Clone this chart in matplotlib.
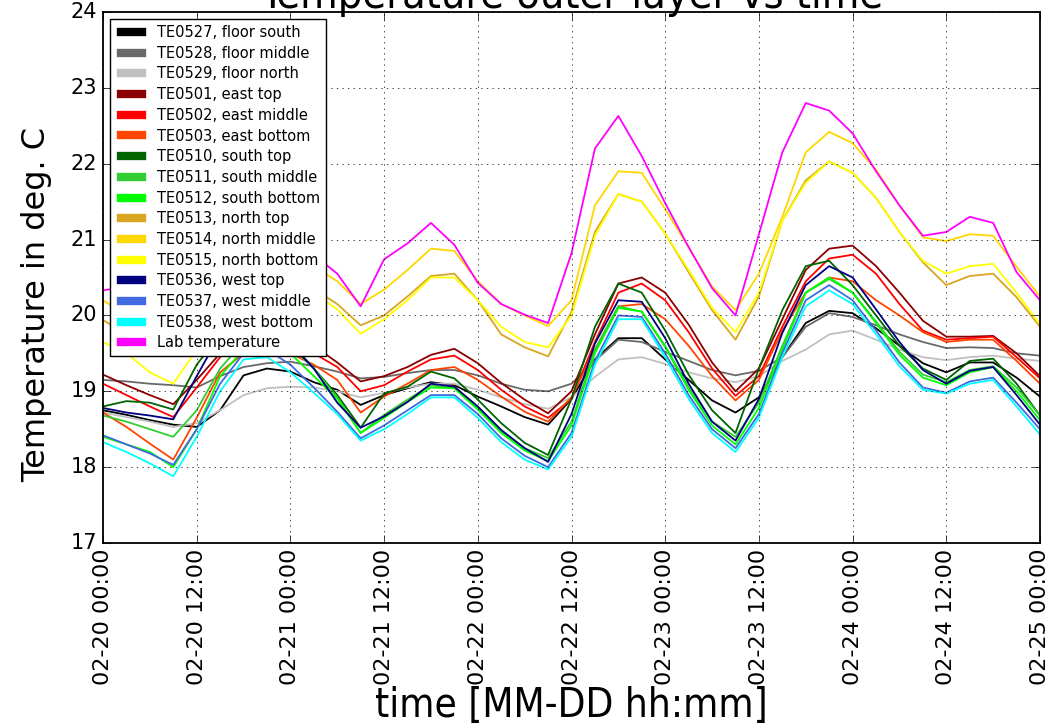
import numpy as np
import pandas as pd
import matplotlib
matplotlib.use('Agg')
import matplotlib.pyplot as plt
import matplotlib.dates as mdates
from matplotlib import font_manager

plt.style.use('classic')

# narrow face for the big labels, if one is installed
have = {(f.name, f.stretch) for f in font_manager.fontManager.ttflist}
if ('DejaVu Sans', 'condensed') in have:
    narrow = dict(family='DejaVu Sans', stretch='condensed')
elif any(n == 'Liberation Sans Narrow' for n, s in have):
    narrow = dict(family='Liberation Sans Narrow')
else:
    narrow = dict(family='DejaVu Sans')

# readings every 3 hours, starting 02-20 00:00
hours = np.arange(0, 121, 3)
time = pd.Timestamp('2017-02-20 00:00') + pd.to_timedelta(hours, unit='h')

te0527 = [18.75, 18.69, 18.62, 18.56, 18.53, 18.75, 19.21, 19.30, 19.26, 19.12,
          19.02, 18.82, 18.95, 19.04, 19.12, 19.08, 18.93, 18.80, 18.66, 18.56,
          18.90, 19.42, 19.70, 19.70, 19.42, 19.15, 18.88, 18.72, 18.92, 19.45,
          19.90, 20.06, 20.03, 19.83, 19.60, 19.37, 19.25, 19.38, 19.38, 19.18,
          18.93]
te0528 = [19.15, 19.13, 19.10, 19.08, 19.05, 19.20, 19.32, 19.37, 19.39, 19.33,
          19.26, 19.17, 19.19, 19.24, 19.28, 19.28, 19.21, 19.10, 19.02, 19.00,
          19.10, 19.40, 19.68, 19.65, 19.52, 19.40, 19.28, 19.21, 19.27, 19.45,
          19.85, 20.03, 19.98, 19.87, 19.75, 19.65, 19.57, 19.58, 19.57, 19.50,
          19.47]
te0529 = [18.72, 18.66, 18.60, 18.53, 18.58, 18.75, 18.95, 19.04, 19.06, 19.05,
          19.00, 18.92, 18.98, 19.05, 19.10, 19.10, 19.02, 18.92, 18.83, 18.77,
          18.92, 19.19, 19.42, 19.45, 19.36, 19.25, 19.17, 19.12, 19.20, 19.40,
          19.55, 19.75, 19.80, 19.68, 19.55, 19.45, 19.41, 19.45, 19.47, 19.43,
          19.40]
te0501 = [19.22, 19.08, 18.95, 18.83, 19.15, 19.50, 19.80, 19.85, 19.75, 19.60,
          19.38, 19.13, 19.20, 19.32, 19.48, 19.56, 19.37, 19.11, 18.89, 18.71,
          19.00, 19.75, 20.42, 20.50, 20.30, 19.88, 19.38, 19.00, 19.30, 19.95,
          20.60, 20.88, 20.92, 20.65, 20.30, 19.93, 19.72, 19.72, 19.73, 19.50,
          19.20]
te0502 = [19.10, 18.95, 18.80, 18.66, 19.05, 19.45, 19.68, 19.75, 19.68, 19.50,
          19.32, 19.00, 19.08, 19.26, 19.42, 19.47, 19.28, 19.02, 18.80, 18.65,
          18.90, 19.65, 20.30, 20.42, 20.20, 19.78, 19.30, 18.94, 19.20, 19.85,
          20.45, 20.75, 20.80, 20.55, 20.15, 19.80, 19.68, 19.70, 19.72, 19.45,
          19.17]
te0503 = [18.72, 18.53, 18.31, 18.10, 18.65, 19.25, 19.50, 19.60, 19.50, 19.35,
          19.15, 18.72, 18.93, 19.10, 19.28, 19.32, 19.15, 18.93, 18.73, 18.60,
          18.92, 19.55, 20.12, 20.15, 19.95, 19.60, 19.20, 18.88, 19.15, 19.80,
          20.30, 20.50, 20.45, 20.20, 20.00, 19.78, 19.65, 19.68, 19.68, 19.40,
          19.10]
te0510 = [18.80, 18.87, 18.85, 18.76, 19.35, 19.75, 19.95, 19.95, 19.65, 19.30,
          18.95, 18.52, 18.97, 19.06, 19.26, 19.17, 18.89, 18.58, 18.32, 18.16,
          18.90, 19.85, 20.42, 20.30, 19.80, 19.22, 18.75, 18.45, 19.30, 20.07,
          20.65, 20.72, 20.40, 20.00, 19.60, 19.30, 19.15, 19.40, 19.43, 19.10,
          18.68]
te0511 = [18.68, 18.60, 18.50, 18.40, 18.75, 19.30, 19.65, 19.80, 19.60, 19.30,
          18.92, 18.45, 18.69, 18.89, 19.08, 19.04, 18.78, 18.47, 18.25, 18.12,
          18.60, 19.55, 20.12, 20.05, 19.60, 19.05, 18.60, 18.40, 18.85, 19.60,
          20.30, 20.48, 20.30, 19.92, 19.52, 19.22, 19.12, 19.28, 19.33, 19.05,
          18.68]
te0512 = [18.40, 18.30, 18.20, 18.00, 18.50, 19.20, 19.55, 19.70, 19.50, 19.20,
          18.90, 18.45, 18.65, 18.86, 19.05, 19.04, 18.76, 18.45, 18.22, 18.08,
          18.55, 19.50, 20.10, 20.05, 19.58, 19.02, 18.55, 18.30, 18.78, 19.55,
          20.30, 20.50, 20.30, 19.90, 19.48, 19.18, 19.08, 19.25, 19.32, 19.00,
          18.62]
te0513 = [19.94, 19.75, 19.65, 19.58, 19.90, 20.20, 20.50, 20.60, 20.55, 20.35,
          20.15, 19.87, 20.00, 20.25, 20.52, 20.55, 20.20, 19.75, 19.58, 19.46,
          20.05, 21.10, 21.60, 21.50, 21.08, 20.57, 20.07, 19.68, 20.25, 21.25,
          21.78, 22.03, 21.88, 21.55, 21.10, 20.70, 20.40, 20.52, 20.55, 20.24,
          19.85]
te0514 = [20.20, 20.00, 19.80, 19.65, 20.00, 20.40, 20.70, 20.85, 20.80, 20.65,
          20.45, 20.15, 20.34, 20.60, 20.88, 20.85, 20.45, 20.15, 20.00, 19.86,
          20.20, 21.45, 21.90, 21.88, 21.40, 20.90, 20.38, 20.07, 20.55, 21.30,
          22.15, 22.42, 22.27, 21.92, 21.45, 21.03, 20.98, 21.07, 21.05, 20.64,
          20.25]
te0515 = [19.65, 19.50, 19.25, 19.10, 19.55, 20.10, 20.40, 20.55, 20.50, 20.30,
          20.08, 19.76, 19.95, 20.20, 20.50, 20.50, 20.20, 19.85, 19.65, 19.58,
          20.00, 21.05, 21.60, 21.50, 21.08, 20.60, 20.10, 19.78, 20.30, 21.25,
          21.75, 22.03, 21.88, 21.55, 21.10, 20.72, 20.55, 20.65, 20.68, 20.30,
          19.88]
te0536 = [18.78, 18.72, 18.68, 18.63, 19.20, 19.75, 20.00, 19.90, 19.62, 19.30,
          18.85, 18.52, 18.67, 18.86, 19.10, 19.06, 18.80, 18.49, 18.25, 18.07,
          18.70, 19.63, 20.20, 20.18, 19.70, 19.10, 18.60, 18.35, 18.90, 19.77,
          20.40, 20.65, 20.50, 20.08, 19.65, 19.28, 19.10, 19.27, 19.32, 18.95,
          18.56]
te0537 = [18.42, 18.30, 18.18, 18.03, 18.50, 19.10, 19.50, 19.55, 19.35, 19.05,
          18.73, 18.38, 18.55, 18.75, 18.95, 18.95, 18.70, 18.38, 18.15, 18.00,
          18.45, 19.40, 20.00, 19.98, 19.50, 18.95, 18.50, 18.25, 18.70, 19.50,
          20.20, 20.40, 20.20, 19.80, 19.38, 19.05, 18.98, 19.13, 19.18, 18.85,
          18.50]
te0538 = [18.33, 18.20, 18.05, 17.88, 18.40, 19.00, 19.42, 19.45, 19.25, 18.98,
          18.70, 18.35, 18.50, 18.70, 18.92, 18.92, 18.65, 18.33, 18.10, 17.97,
          18.40, 19.35, 19.95, 19.95, 19.45, 18.90, 18.45, 18.20, 18.65, 19.45,
          20.12, 20.33, 20.15, 19.75, 19.33, 19.02, 18.97, 19.10, 19.15, 18.80,
          18.43]
lab = [20.33, 20.38, 20.30, 20.10, 20.50, 20.85, 21.00, 21.05, 20.95, 20.80,
       20.55, 20.12, 20.74, 20.95, 21.22, 20.93, 20.43, 20.15, 20.01, 19.90,
       20.82, 22.20, 22.63, 22.10, 21.48, 20.90, 20.36, 20.00, 21.07, 22.15,
       22.80, 22.70, 22.40, 21.90, 21.45, 21.05, 21.10, 21.30, 21.22, 20.57,
       20.20]

sensors = [
    (te0527, 'TE0527, floor south', 'black'),
    (te0528, 'TE0528, floor middle', 'dimgray'),
    (te0529, 'TE0529, floor north', 'silver'),
    (te0501, 'TE0501, east top', 'darkred'),
    (te0502, 'TE0502, east middle', 'red'),
    (te0503, 'TE0503, east bottom', 'orangered'),
    (te0510, 'TE0510, south top', 'darkgreen'),
    (te0511, 'TE0511, south middle', 'limegreen'),
    (te0512, 'TE0512, south bottom', 'lime'),
    (te0513, 'TE0513, north top', 'goldenrod'),
    (te0514, 'TE0514, north middle', 'gold'),
    (te0515, 'TE0515, north bottom', 'yellow'),
    (te0536, 'TE0536, west top', 'navy'),
    (te0537, 'TE0537, west middle', 'royalblue'),
    (te0538, 'TE0538, west bottom', 'cyan'),
    (lab, 'Lab temperature', 'magenta'),
]

fig = plt.figure(figsize=(10.45, 7.27), dpi=100, facecolor='white')
ax = fig.add_axes([103/1045, 1 - 543/727, 937/1045, 531/727])

for vals, name, col in sensors:
    ax.plot(time, vals, color=col, lw=1.3, label=name)

ax.set_xlim(pd.Timestamp('2017-02-20 00:00'), pd.Timestamp('2017-02-25 00:00'))
ax.set_ylim(17, 24)
ax.xaxis.set_major_locator(mdates.HourLocator(byhour=[0, 12]))
ax.xaxis.set_major_formatter(mdates.DateFormatter('%m-%d %H:%M'))
plt.setp(ax.get_xticklabels(), rotation=90)
ax.tick_params(axis='x', labelsize=16)
ax.tick_params(axis='y', labelsize=15)
ax.tick_params(which='major', length=6)
for side in ax.spines.values():
    side.set_linewidth(1.3)
ax.grid(True)

ax.set_title('Temperature outer layer vs time', fontsize=31, pad=3, **narrow)
ax.set_xlabel('time [MM-DD hh:mm]', fontsize=29, labelpad=1, **narrow)
ax.set_ylabel('Temperature in deg. C', fontsize=23)
ax.yaxis.set_label_coords(-0.054, 0.45)

leg = ax.legend(loc='upper left', fontsize=10.5, labelspacing=0.39,
                handlelength=2.1, handletextpad=0.7, borderpad=0.4,
                framealpha=1.0)
leg.get_frame().set_edgecolor('black')
for line in leg.get_lines():
    line.set_linewidth(6)

fig.savefig('out.png', dpi=100, facecolor='white')
